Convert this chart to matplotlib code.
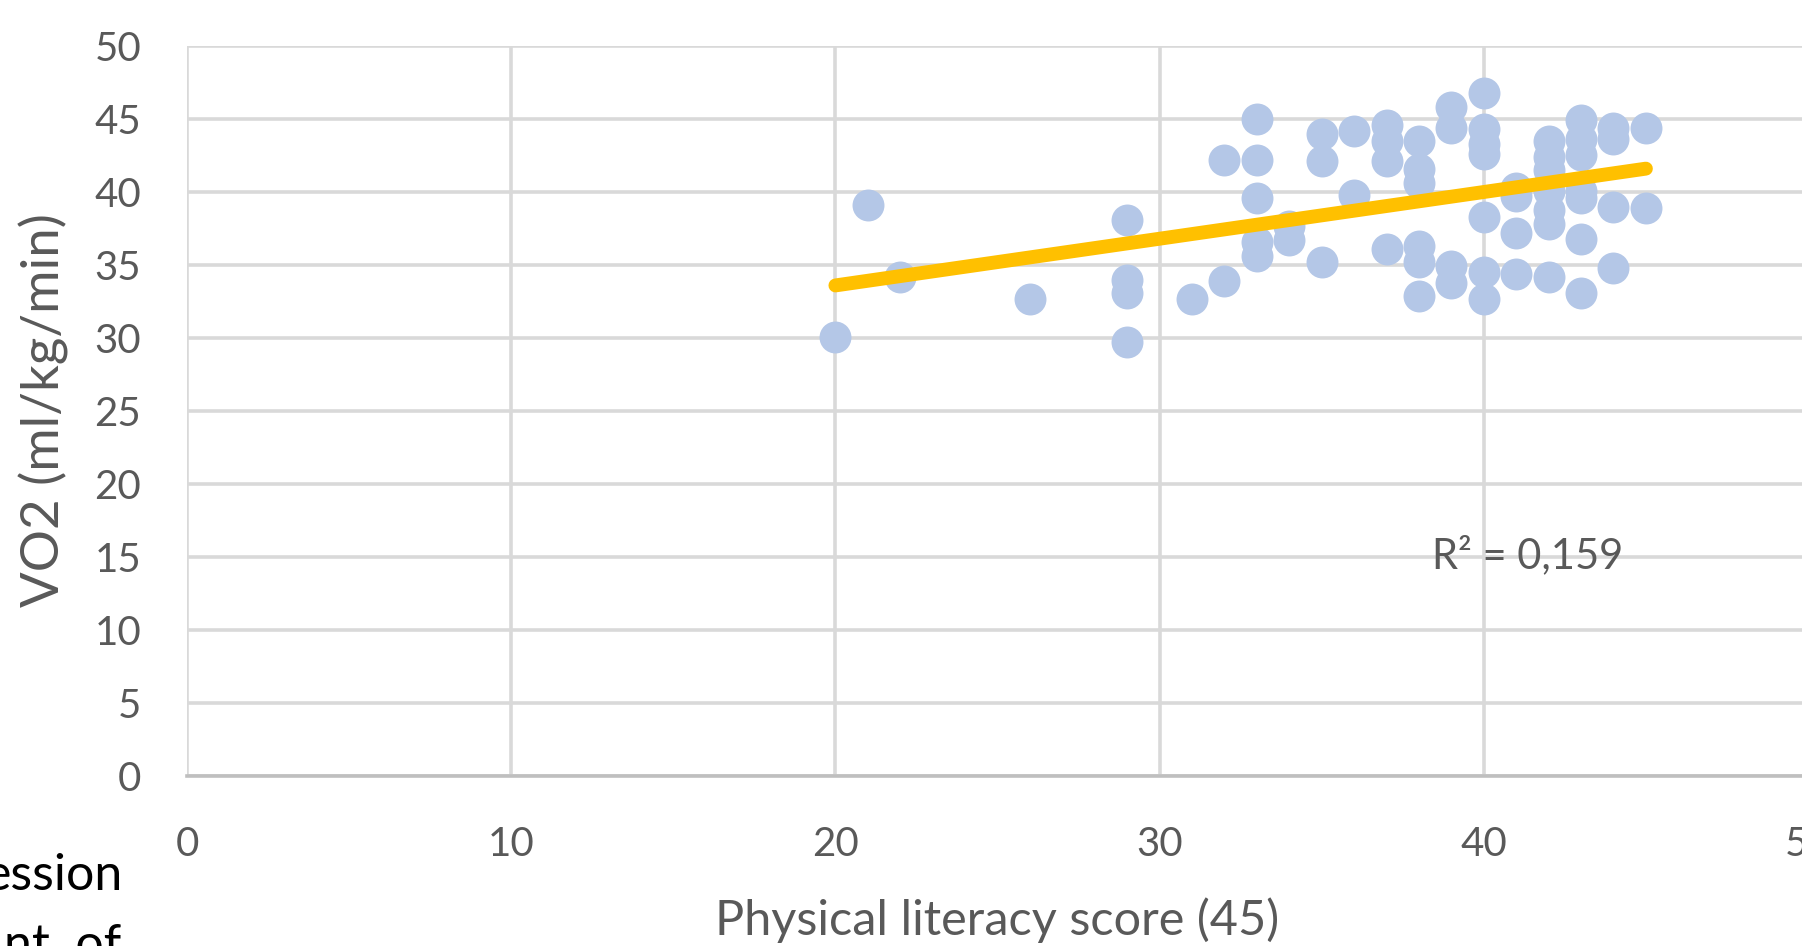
import numpy as np
import matplotlib
matplotlib.use("Agg")
import matplotlib.pyplot as plt

plt.rcParams['font.family'] = ['Lato', 'DejaVu Sans']

# -------------------------
# Data
# -------------------------

score = [20, 21, 22, 26,
         29, 29, 29, 29,
         31,
         32, 32,
         33, 33, 33, 33, 33,
         34, 34,
         35, 35, 35,
         36, 36,
         37, 37, 37, 37,
         38, 38, 38, 38, 38, 38,
         39, 39, 39, 39,
         40, 40, 40, 40, 40, 40, 40,
         41, 41, 41, 41,
         42, 42, 42, 42, 42, 42, 42,
         43, 43, 43, 43, 43, 43, 43,
         44, 44, 44, 44,
         45, 45]

vo2 = [30.1, 39.1, 34.2, 32.7,
       38.1, 34.0, 33.1, 29.7,
       32.7,
       42.2, 33.9,
       45.0, 42.2, 39.6, 36.6, 35.6,
       37.7, 36.7,
       44.0, 42.1, 35.2,
       44.2, 39.8,
       44.6, 43.5, 42.1, 36.1,
       43.5, 41.6, 40.6, 36.3, 35.2, 32.9,
       45.8, 44.4, 34.9, 33.8,
       46.8, 44.3, 43.3, 42.6, 38.3, 34.5, 32.7,
       40.3, 39.7, 37.2, 34.4,
       43.5, 42.4, 41.5, 40.1, 38.8, 37.8, 34.2,
       44.9, 43.6, 42.5, 40.1, 39.6, 36.8, 33.1,
       44.4, 43.6, 39.0, 34.8,
       44.4, 38.9]

# trend line end points
trend_x = [20, 45]
trend_y = [33.6, 41.6]

r2_label = "R\u00b2 = 0,159"

x_ticks = [0, 10, 20, 30, 40, 50]
y_ticks = [0, 5, 10, 15, 20, 25, 30, 35, 40, 45, 50]

# -------------------------
# Plot setup
# -------------------------

fig = plt.figure(figsize=(18.02, 9.46), dpi=100)
ax = fig.add_axes([187 / 1802, 170 / 946, 1621 / 1802, 730 / 946])

grey = '#595959'

ax.set_xlim(0, 50)
ax.set_ylim(0, 50)
ax.set_xticks(x_ticks)
ax.set_yticks(y_ticks)

ax.grid(True, color='#D9D9D9', lw=2.6)
ax.set_axisbelow(True)
for s in ['top', 'right', 'left']:
    ax.spines[s].set_visible(False)
ax.spines['bottom'].set_color('#BFBFBF')
ax.spines['bottom'].set_linewidth(2.6)

ax.tick_params(length=0, labelsize=29, labelcolor=grey)
ax.tick_params(axis='y', pad=33)
ax.tick_params(axis='x', pad=36)

# points
ax.plot(score, vo2, 'o', color='#B4C7E7', markersize=23, markeredgewidth=0,
        clip_on=False, zorder=3)

# trend line
ax.plot(trend_x, trend_y, '-', color='#FFC000', lw=10,
        solid_capstyle='round', zorder=4)

ax.text(38.4, 15.1, r2_label, fontsize=30, color=grey, va='center', ha='left')

ax.set_xlabel('Physical literacy score (45)', fontsize=35, color=grey)
ax.xaxis.set_label_coords(0.5, -0.198)
ax.xaxis.label.set_va('center')

ax.set_ylabel('VO2 (ml/kg/min)', fontsize=38, color=grey)
ax.yaxis.set_label_coords(-0.0885, 0.501)
ax.yaxis.label.set_va('center')

# leftover text of the surrounding page
fig.text(123 / 1802, 1 - 876 / 946, 'ession', fontsize=36, color='black',
         ha='right', va='center')
fig.text(121 / 1802, 1 - 946 / 946, 'nt  of', fontsize=36, color='black',
         ha='right', va='center')

fig.savefig('out.png', dpi=100)
